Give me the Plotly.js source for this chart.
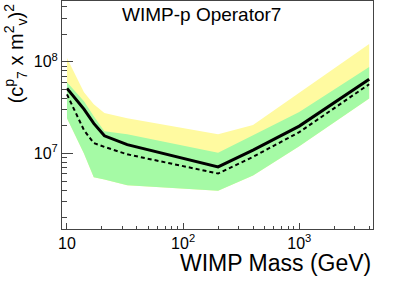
<!DOCTYPE html>
<html>
<head>
<meta charset="utf-8">
<script src="https://cdn.plot.ly/plotly-3.0.1.min.js"></script>
<style>html,body{margin:0;padding:0;background:#fff;}#chart{width:415px;height:281px;}</style>
</head>
<body>
<div id="chart"></div>
<script>
// WIMP mass (GeV)
const mass = [10, 14, 17, 21, 33, 200, 400, 1000, 4000];
// observed limit (solid)
const observed = [5.13e7, 3.05e7, 2.13e7, 1.56e7, 1.25e7, 7.15e6, 1.09e7, 1.99e7, 6.47e7];
// expected limit (dashed)
const expected = [4.41e7, 1.8e7, 1.3e7, 1.18e7, 9.8e6, 6.05e6, 9.2e6, 1.71e7, 5.7e7];
// +/-1 sigma band
const sigma1Up = [6.0e7, 3.72e7, 2.55e7, 1.75e7, 1.62e7, 1.02e7, 1.58e7, 2.83e7, 8.8e7];
const sigma1Down = [2.43e7, 1.0e7, 5.5e6, 5.2e6, 4.5e6, 3.93e6, 5.75e6, 1.2e7, 3.98e7];
// +2 sigma band
const sigma2Up = [1.1e8, 4.67e7, 3.45e7, 2.76e7, 2.43e7, 1.62e7, 2.04e7, 4.55e7, 1.56e8];

const xTickVals = [10, 100, 1000];
const xTickText = ['10', '10<sup>2</sup>', '10<sup>3</sup>'];
const yTickVals = [1e7, 1e8];
const yTickText = ['10<sup>7</sup>', '10<sup>8</sup>'];

function minorTicks(lo, hi) {
  const out = [];
  for (let d = lo; d <= hi; d++) {
    for (let k = 2; k <= 9; k++) out.push(k * Math.pow(10, d));
  }
  return out;
}

const yellow = 'rgb(255,250,160)';
const green = 'rgb(165,250,165)';

const traces = [
  {x: mass, y: sigma1Down, mode: 'lines', line: {width: 0, color: yellow}, hoverinfo: 'skip', showlegend: false},
  {x: mass, y: sigma2Up, mode: 'lines', fill: 'tonexty', fillcolor: yellow, line: {width: 0, color: yellow}, hoverinfo: 'skip', showlegend: false},
  {x: mass, y: sigma1Down, mode: 'lines', line: {width: 0, color: green}, hoverinfo: 'skip', showlegend: false},
  {x: mass, y: sigma1Up, mode: 'lines', fill: 'tonexty', fillcolor: green, line: {width: 0, color: green}, hoverinfo: 'skip', showlegend: false},
  {x: mass, y: expected, mode: 'lines', line: {color: '#000', width: 2, dash: '4px,3px'}, showlegend: false},
  {x: mass, y: observed, mode: 'lines', line: {color: '#000', width: 3}, showlegend: false}
];

const font = {family: 'Liberation Sans, Arial, sans-serif', color: '#000'};

const layout = {
  width: 415, height: 281,
  margin: {l: 62, r: 42, t: 1, b: 52, pad: 0},
  paper_bgcolor: '#fff', plot_bgcolor: '#fff',
  showlegend: false,
  font: font,
  xaxis: {
    type: 'log', range: [0.957, 3.635],
    tickmode: 'array', tickvals: xTickVals, ticktext: xTickText,
    ticks: 'inside', ticklen: 6, tickwidth: 1, tickcolor: '#444',
    minor: {tickmode: 'array', tickvals: minorTicks(0, 3), ticks: 'inside', ticklen: 3, tickcolor: '#444', showgrid: false},
    showline: true, linecolor: '#444', linewidth: 1, mirror: true,
    showgrid: false, zeroline: false,
    tickfont: {family: font.family, size: 16, color: '#000'}
  },
  yaxis: {
    type: 'log', range: [6.177, 8.663],
    tickmode: 'array', tickvals: yTickVals, ticktext: yTickText,
    ticks: 'inside', ticklen: 11, tickwidth: 1, tickcolor: '#444',
    minor: {tickmode: 'array', tickvals: minorTicks(6, 8), ticks: 'inside', ticklen: 5, tickcolor: '#444', showgrid: false},
    showline: true, linecolor: '#444', linewidth: 1, mirror: true,
    showgrid: false, zeroline: false,
    tickfont: {family: font.family, size: 16, color: '#000'}
  },
  annotations: [
    {text: 'WIMP-p Operator7', xref: 'paper', yref: 'paper', x: 0.448, y: 0.995, xanchor: 'center', yanchor: 'top',
     showarrow: false, font: {family: font.family, size: 19, color: '#000'}},
    {text: 'WIMP Mass (GeV)', xref: 'paper', yref: 'paper', x: 1.0, y: -0.085, xanchor: 'right', yanchor: 'top',
     showarrow: false, font: {family: font.family, size: 23, color: '#000'}},
    {text: '(c<sup>p</sup><sub>7</sub> x m<sup>2</sup><sub>v</sub>)<sup>2</sup>', xref: 'paper', yref: 'paper',
     x: -0.15, y: 1.0, xanchor: 'center', yanchor: 'top', textangle: -90,
     showarrow: false, font: {family: font.family, size: 20, color: '#000'}}
  ]
};

Plotly.newPlot('chart', traces, layout, {staticPlot: true, displayModeBar: false});
</script>
</body>
</html>
